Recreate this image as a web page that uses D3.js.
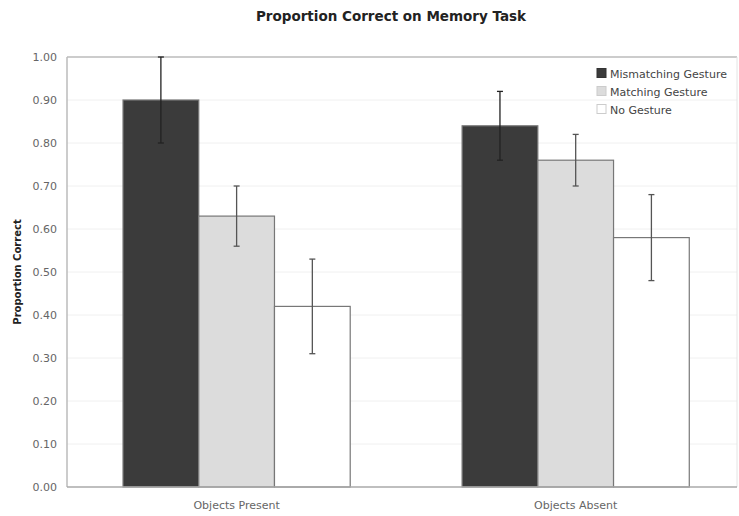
<!DOCTYPE html>
<html>
<head>
<meta charset="utf-8">
<script src="https://cdn.jsdelivr.net/npm/d3@7"></script>
<style>
  body { margin: 0; background: #fff; }
  text { font-family: "DejaVu Sans", Verdana, sans-serif; }
</style>
</head>
<body>
<script>
'use strict'

let width = 739
let height = 516
let margin = { top: 57, right: 2, bottom: 29, left: 67 }

// data
let categories = ["Objects Present", "Objects Absent"]
let series = ["Mismatching Gesture", "Matching Gesture", "No Gesture"]
let means = [
  [0.90, 0.84],   // Mismatching
  [0.63, 0.76],   // Matching
  [0.42, 0.58]    // No gesture
]
let errors = [
  [0.10, 0.08],
  [0.07, 0.06],
  [0.11, 0.10]
]
let yTicks = [0, 0.1, 0.2, 0.3, 0.4, 0.5, 0.6, 0.7, 0.8, 0.9, 1.0]

let fills = ["#3b3b3b", "#dcdcdc", "#ffffff"]
let errColor = ["#222", "#555", "#555"]

let svg = d3.select("body").append("svg")
  .attr("width", width)
  .attr("height", height)

let x0 = d3.scaleBand()
  .domain(categories)
  .range([margin.left, width - margin.right])
  .paddingInner(0.33)
  .paddingOuter(0.153)
  .align(0.54)

let x1 = d3.scaleBand()
  .domain(series)
  .range([0, x0.bandwidth()])

let y = d3.scaleLinear()
  .domain([0, 1])
  .range([height - margin.bottom, margin.top])

// gridlines
svg.append("g")
  .selectAll("line")
  .data(yTicks.slice(1, -1))
  .enter().append("line")
  .attr("x1", margin.left)
  .attr("x2", width - margin.right)
  .attr("y1", d => y(d))
  .attr("y2", d => y(d))
  .style("stroke", "#f0f0f0")

// frame
svg.append("line")
  .attr("x1", margin.left).attr("x2", width - margin.right)
  .attr("y1", y(1)).attr("y2", y(1))
  .style("stroke", "#bbb").style("stroke-width", 1.5)
svg.append("line")
  .attr("x1", margin.left).attr("x2", margin.left)
  .attr("y1", y(1)).attr("y2", y(0))
  .style("stroke", "#bbb").style("stroke-width", 1.5)
svg.append("line")
  .attr("x1", width - margin.right).attr("x2", width - margin.right)
  .attr("y1", y(1)).attr("y2", y(0))
  .style("stroke", "#e4e4e4")

// y axis
let yAxis = d3.axisLeft(y)
  .tickValues(yTicks)
  .tickSize(0)
  .tickPadding(10)
  .tickFormat(d3.format(".2f"))

let gy = svg.append("g")
  .attr("transform", "translate(" + margin.left + ",0)")
  .call(yAxis)
gy.select(".domain").remove()
gy.selectAll("text")
  .style("font-size", "11px")
  .style("fill", "#666")

// bars
let groups = svg.selectAll(".grp")
  .data(categories)
  .enter().append("g")
  .attr("class", "grp")
  .attr("transform", d => "translate(" + x0(d) + ",0)")

groups.each(function(cat, ci) {
  let g = d3.select(this)
  series.forEach(function(s, si) {
    g.append("rect")
      .attr("x", x1(s))
      .attr("y", y(means[si][ci]))
      .attr("width", x1.bandwidth())
      .attr("height", y(0) - y(means[si][ci]))
      .style("fill", fills[si])
      .style("stroke", "#777")
      .style("stroke-width", 1.2)
  })
  series.forEach(function(s, si) {
    let cx = x1(s) + x1.bandwidth() / 2
    let hi = y(means[si][ci] + errors[si][ci])
    let lo = y(means[si][ci] - errors[si][ci])
    g.append("line")
      .attr("x1", cx).attr("x2", cx)
      .attr("y1", hi).attr("y2", lo)
      .style("stroke", errColor[si]).style("stroke-width", 1.3)
    g.append("line")
      .attr("x1", cx - 3).attr("x2", cx + 3)
      .attr("y1", hi).attr("y2", hi)
      .style("stroke", errColor[si]).style("stroke-width", 1.3)
    g.append("line")
      .attr("x1", cx - 3).attr("x2", cx + 3)
      .attr("y1", lo).attr("y2", lo)
      .style("stroke", errColor[si]).style("stroke-width", 1.3)
  })
})

// bottom line
svg.append("line")
  .attr("x1", margin.left).attr("x2", width - margin.right)
  .attr("y1", y(0)).attr("y2", y(0))
  .style("stroke", "#aaa").style("stroke-width", 1.5)

// x labels
svg.selectAll(".xlab")
  .data(categories)
  .enter().append("text")
  .attr("class", "xlab")
  .attr("x", d => x0(d) + x0.bandwidth() / 2)
  .attr("y", 509)
  .attr("text-anchor", "middle")
  .style("font-size", "11px")
  .style("fill", "#666")
  .text(d => d)

// title
svg.append("text")
  .attr("x", 391)
  .attr("y", 21)
  .attr("text-anchor", "middle")
  .style("font-size", "13.5px")
  .style("font-weight", "bold")
  .style("fill", "#222")
  .text("Proportion Correct on Memory Task")

// y label
svg.append("text")
  .attr("text-anchor", "middle")
  .attr("transform", "translate(21," + ((y(0) + y(1)) / 2) + ")rotate(-90)")
  .style("font-size", "10px")
  .style("font-weight", "bold")
  .style("fill", "#222")
  .text("Proportion Correct")

// legend
let legend = svg.selectAll(".leg")
  .data(series)
  .enter().append("g")
  .attr("class", "leg")
  .attr("transform", (d, i) => "translate(597," + (68.5 + i * 18) + ")")

legend.append("rect")
  .attr("width", 9).attr("height", 9)
  .style("fill", (d, i) => fills[i])
  .style("stroke", (d, i) => i == 0 ? "#333" : "#ccc")

legend.append("text")
  .attr("x", 13)
  .attr("y", 9)
  .style("font-size", "11px")
  .style("fill", "#444")
  .text(d => d)
</script>
</body>
</html>
